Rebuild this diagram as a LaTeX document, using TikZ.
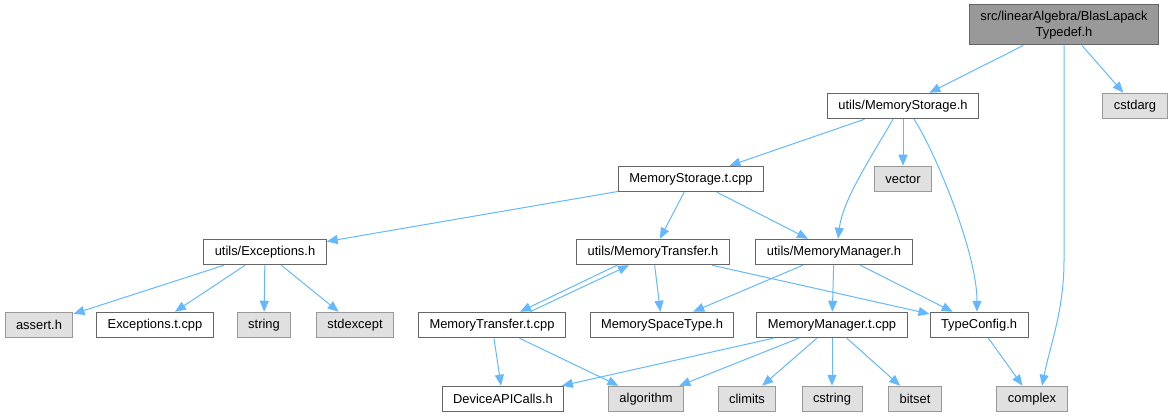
\documentclass[tikz,border=0pt]{standalone}
\usepackage{fontspec}
\setmainfont{Liberation Sans}
\usetikzlibrary{arrows.meta}
\definecolor{edgeblue}{HTML}{63B8FF}
\definecolor{boxgray}{HTML}{666666}
\definecolor{sysgray}{HTML}{999999}
\definecolor{sysfill}{HTML}{E0E0E0}
\tikzset{
	fileA/.style={
		rectangle, draw=boxgray, fill=white, line width=1pt,
		minimum height=25.5pt, inner xsep=11pt, inner ysep=2pt,
		font={\fontsize{12.9}{16.5}\selectfont}
	},
	sysA/.style={fileA, draw=sysgray, fill=sysfill},
	rootA/.style={fileA, fill=sysgray, align=center, minimum height=40pt},
	edgeA/.style={->, draw=edgeblue, line width=1pt},
	>={Triangle[length=11pt,width=9pt]},
}

\begin{document}
\begin{tikzpicture}[x=1pt, y=-1pt, every node/.style={fileA}]
\useasboundingbox (0,0) rectangle (1173,417);
\node [rootA] (root) at (1064,25) {src/linearAlgebra/BlasLapack\\Typedef.h};
\node (msh) at (903,106) {utils/MemoryStorage.h};
\node [sysA] (cstdarg) at (1135,106) {cstdarg};
\node (mstcpp) at (691,179) {MemoryStorage.t.cpp};
\node [sysA] (vector) at (903,179) {vector};
\node (exch) at (265,252) {utils/Exceptions.h};
\node (mth) at (653,252) {utils/MemoryTransfer.h};
\node (mmh) at (834,252) {utils/MemoryManager.h};
\node [sysA] (assert) at (39,325) {assert.h};
\node (exctcpp) at (155,325) {Exceptions.t.cpp};
\node [sysA] (string) at (264,325) {string};
\node [sysA] (stdexcept) at (355,325) {stdexcept};
\node (mttcpp) at (492,325) {MemoryTransfer.t.cpp};
\node (mspace) at (662,325) {MemorySpaceType.h};
\node (mmtcpp) at (832,325) {MemoryManager.t.cpp};
\node (typecfg) at (979,325) {TypeConfig.h};
\node (devapi) at (503,399) {DeviceAPICalls.h};
\node [sysA] (algorithm) at (646,399) {algorithm};
\node [sysA] (climits) at (747,399) {climits};
\node [sysA] (cstring) at (832,399) {cstring};
\node [sysA] (bitset) at (915,399) {bitset};
\node [sysA] (complex) at (1032,399) {complex};
\path (root) edge [edgeA] (msh) ;
\path (root) edge [edgeA] (cstdarg) ;
\draw [edgeA] (root.south) -- ++(0,215) .. controls +(0,50) and +(8,-40) .. ([xshift=10pt]complex.north);
\path (msh) edge [edgeA] (mstcpp) ;
\path (msh) edge [edgeA] (vector) ;
\draw [edgeA] ([xshift=-10pt]msh.south) .. controls +(-20,35) and +(5,-40) .. ([xshift=4pt]mmh.north);
\draw [edgeA] ([xshift=11pt]msh.south) .. controls +(20,30) and +(0,-60) .. ([xshift=-2pt]typecfg.north);
\path (mstcpp) edge [edgeA] (exch) ;
\path (mstcpp) edge [edgeA] (mth) ;
\path (mstcpp) edge [edgeA] (mmh) ;
\path (exch) edge [edgeA] (assert) ;
\path (exch) edge [edgeA] (exctcpp) ;
\path (exch) edge [edgeA] (string) ;
\path (exch) edge [edgeA] (stdexcept) ;
\draw [edgeA] ([xshift=-36pt]mth.south) -- ([xshift=28pt]mttcpp.north);
\draw [edgeA] ([xshift=38pt]mttcpp.north) -- ([xshift=-24pt]mth.south);
\path (mth) edge [edgeA] (mspace) ;
\path (mth) edge [edgeA] (typecfg) ;
\path (mmh) edge [edgeA] (mspace) ;
\path (mmh) edge [edgeA] (mmtcpp) ;
\path (mmh) edge [edgeA] (typecfg) ;
\path (mttcpp) edge [edgeA] (devapi) ;
\path (mttcpp) edge [edgeA] (algorithm) ;
\path (mmtcpp) edge [edgeA] (devapi) ;
\path (mmtcpp) edge [edgeA] (algorithm) ;
\path (mmtcpp) edge [edgeA] (climits) ;
\path (mmtcpp) edge [edgeA] (cstring) ;
\path (mmtcpp) edge [edgeA] (bitset) ;
\path (typecfg) edge [edgeA] (complex) ;
\end{tikzpicture}
\end{document}
